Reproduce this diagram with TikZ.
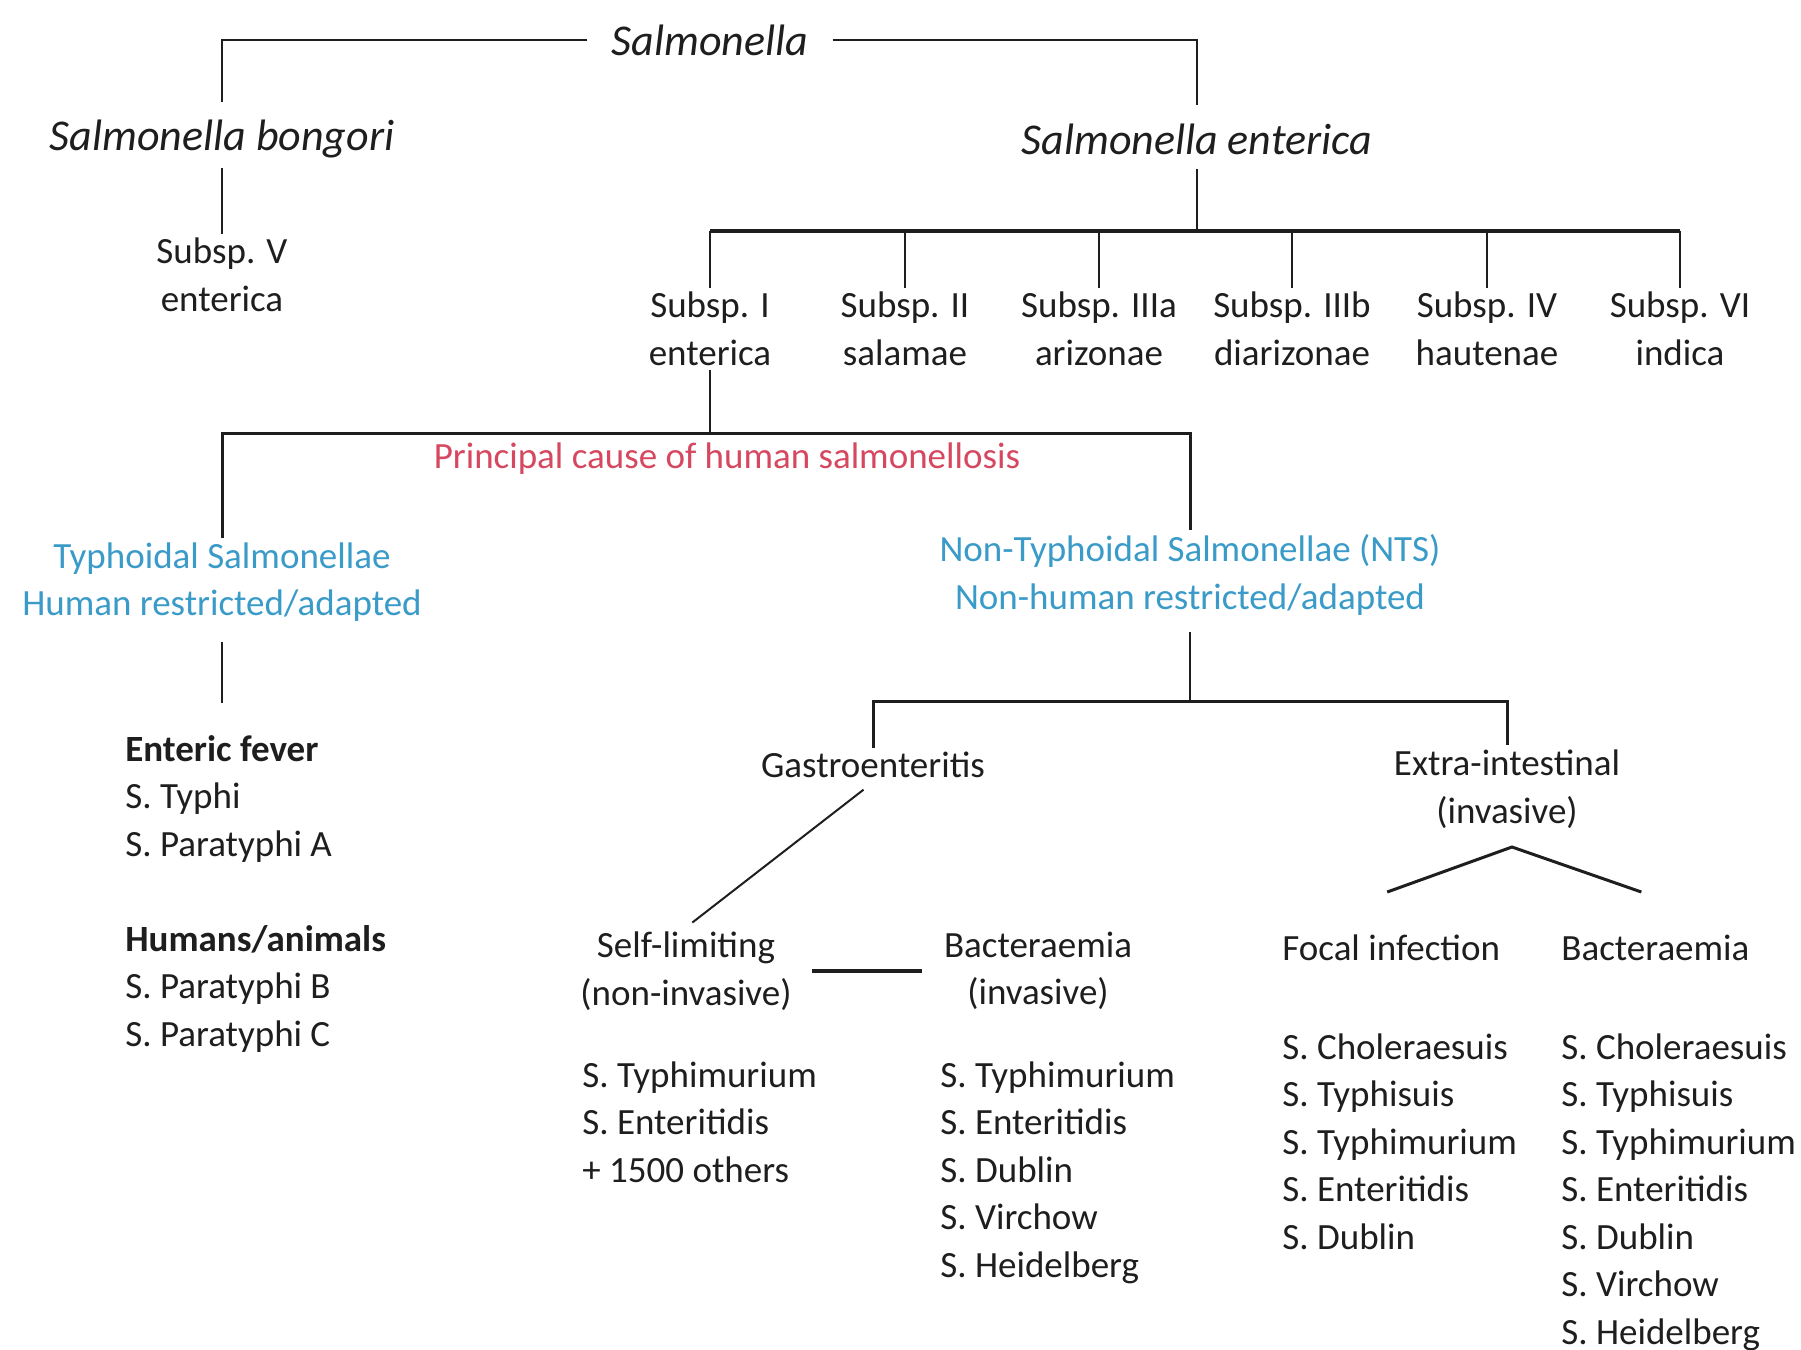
\documentclass[tikz,border=0pt]{standalone}
\usepackage{fontspec}
\setmainfont{Carlito}
\definecolor{causered}{RGB}{213,72,96}
\definecolor{typhblue}{RGB}{58,155,200}
\definecolor{ink}{RGB}{30,30,30}
\tikzset{
  lbl/.style={font=\fontsize{18.5}{23.75}\selectfont, inner sep=2pt, align=center, text=ink},
  ttl/.style={font=\fontsize{22}{26}\selectfont\itshape, inner sep=2pt, text=ink},
  lst/.style={lbl, align=left, anchor=north west},
  br/.style={line width=1pt, draw=ink},
}
\begin{document}
\begin{tikzpicture}[x=0.5pt,y=-0.5pt]
\useasboundingbox (0,0) rectangle (1801,1350);

% genus and species
\node[ttl] (salm) at (710,40) {Salmonella};
\node[ttl] (bong) at (222,139) {Salmonella bongori};
\node[ttl] (ente) at (1197,139) {Salmonella enterica};
\draw[br, shorten <=10pt, shorten >=7pt] (salm.west) -| (bong.north);
\draw[br, shorten <=10pt, shorten >=7pt] (salm.east) -| (ente.north);

\node[lbl] (subv) at (222,275) {Subsp. V\\enterica};
\draw[br, shorten <=3pt] (bong) -- (subv);

% subspecies of S. enterica
\foreach \n/\x/\t in {s1/710/{Subsp. I\\enterica}, s2/905/{Subsp. II\\salamae},
  s3/1099/{Subsp. IIIa\\arizonae}, s4/1292/{Subsp. IIIb\\diarizonae},
  s5/1487/{Subsp. IV\\hautenae}, s6/1680/{Subsp. VI\\indica}}
  \node[lbl] (\n) at (\x,329) {\t};
\coordinate (hub1) at (ente |- 0,231);
\draw[br, shorten <=5pt] (ente) -- (hub1);
\draw[br, line width=2pt] (s1.north |- hub1) -- (s6.north |- hub1);
\foreach \n in {s1,s2,s3,s4,s5,s6}
  \draw[br] (\n) -- (\n |- hub1);

% typhoidal / non-typhoidal
\node[lbl, text=typhblue] (typh) at (222,582) {Typhoidal Salmonellae\\Human restricted/adapted};
\node[lbl, text=typhblue] (nts) at (1190,575) {Non-Typhoidal Salmonellae (NTS)\\Non-human restricted/adapted};
\node[lbl, text=causered] (cause) at (727,459) {Principal cause of human salmonellosis};
\coordinate (hub2) at (s1 |- 0,433);
\draw[br] (s1) -- (hub2);
\draw[br, line width=1.5pt] (typh) |- (hub2) -| (nts);

\node[lst] (fever) at (121,731) {\textbf{Enteric fever}\\S. Typhi\\S. Paratyphi A};
\node[lst] (hosts) at (121,921) {\textbf{Humans/animals}\\S. Paratyphi B\\S. Paratyphi C};
\draw[br, shorten <=8pt, shorten >=14pt] (typh) -- (typh |- fever.north);

% NTS syndromes
\node[lbl] (gastro) at (873,765) {Gastroenteritis};
\node[lbl] (extra) at (1507,789) {Extra-intestinal\\(invasive)};
\coordinate (hub3) at (nts |- 0,701);
\draw[br, shorten <=6pt] (nts) -- (hub3);
\draw[br, line width=1.5pt] (gastro) |- (hub3) -| (extra);

\node[lbl] (self) at (686,971) {Self-limiting\\(non-invasive)};
\node[lbl] (bact) at (1038,971) {Bacteraemia\\(invasive)};
\draw[br, shorten <=6pt, shorten >=4pt] (gastro.south) -- (self.north);
\draw[ink, line width=2.2pt, shorten <=8pt, shorten >=9pt] (self) -- (bact);

\node[lbl, anchor=west] (focal) at (1278,948) {Focal infection};
\node[lbl, anchor=west] (bactx) at (1557,948) {Bacteraemia};
\coordinate (apex) at (1512,847);
\draw[br, line width=1.5pt] ([xshift=-2pt]focal.north |- 0,892) -- (apex) -- ([xshift=-7pt]bactx.north |- 0,892);

% serovar lists
\node[lst] (l1) at (578,1057) {S. Typhimurium\\S. Enteritidis\\+ 1500 others};
\node[lst] (l2) at (936,1057) {S. Typhimurium\\S. Enteritidis\\S. Dublin\\S. Virchow\\S. Heidelberg};
\node[lst] (l3) at (1278,1029) {S. Choleraesuis\\S. Typhisuis\\S. Typhimurium\\S. Enteritidis\\S. Dublin};
\node[lst] (l4) at (1557,1029) {S. Choleraesuis\\S. Typhisuis\\S. Typhimurium\\S. Enteritidis\\S. Dublin\\S. Virchow\\S. Heidelberg};
\end{tikzpicture}
\end{document}
